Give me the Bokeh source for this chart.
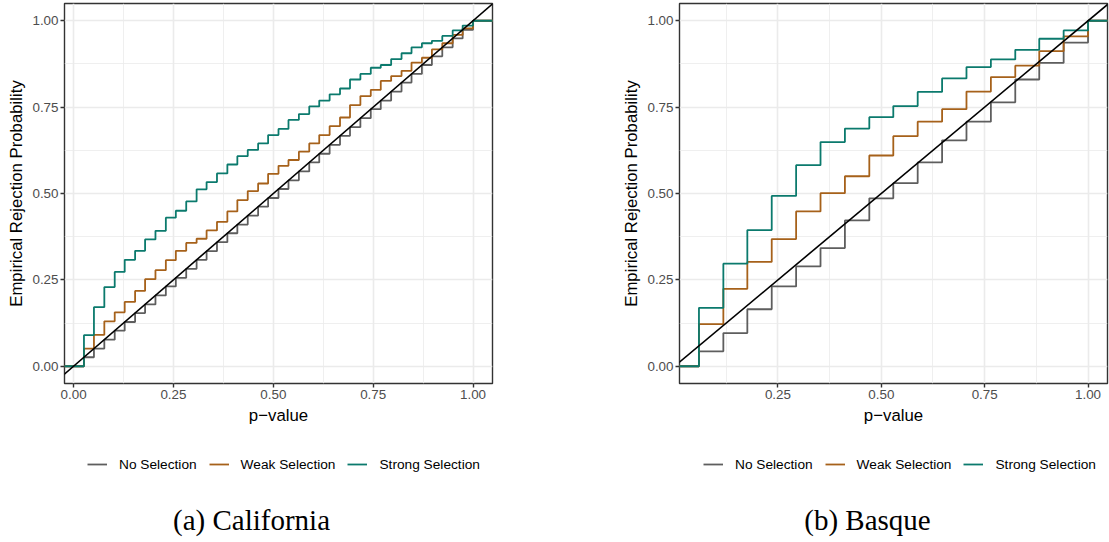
from bokeh.plotting import figure
from bokeh.layouts import row, column
from bokeh.models import (Range1d, FixedTicker, NumeralTickFormatter, Legend,
                          LegendItem, Label, Slope)
from bokeh.embed import file_html
from bokeh.resources import INLINE

# ---------------- data ----------------
# (a) California: placebo p-value grid and empirical rejection probabilities
ca_pvalue = [0.026, 0.051, 0.077, 0.103, 0.128, 0.154, 0.179, 0.205, 0.231, 0.256,
             0.282, 0.308, 0.333, 0.359, 0.385, 0.410, 0.436, 0.462, 0.487, 0.513,
             0.538, 0.564, 0.590, 0.615, 0.641, 0.667, 0.692, 0.718, 0.744, 0.769,
             0.795, 0.821, 0.846, 0.872, 0.897, 0.923, 0.949, 0.974, 1.000]
ca_no_selection = [0.026, 0.051, 0.077, 0.103, 0.128, 0.154, 0.179, 0.205, 0.231, 0.256,
                   0.282, 0.308, 0.333, 0.359, 0.385, 0.410, 0.436, 0.462, 0.487, 0.513,
                   0.538, 0.564, 0.590, 0.615, 0.641, 0.667, 0.692, 0.718, 0.744, 0.769,
                   0.795, 0.821, 0.846, 0.872, 0.897, 0.923, 0.949, 0.974, 1.000]
ca_weak_selection = [0.051, 0.091, 0.130, 0.156, 0.186, 0.218, 0.252, 0.278, 0.307, 0.334,
                     0.357, 0.369, 0.393, 0.418, 0.448, 0.481, 0.507, 0.529, 0.557, 0.580,
                     0.597, 0.621, 0.645, 0.669, 0.695, 0.720, 0.756, 0.782, 0.800, 0.826,
                     0.840, 0.855, 0.879, 0.893, 0.917, 0.935, 0.959, 0.978, 1.000]
ca_strong_selection = [0.090, 0.171, 0.229, 0.273, 0.308, 0.334, 0.367, 0.392, 0.430, 0.450,
                       0.477, 0.512, 0.533, 0.558, 0.584, 0.608, 0.626, 0.645, 0.669, 0.687,
                       0.713, 0.730, 0.752, 0.769, 0.787, 0.804, 0.830, 0.846, 0.864, 0.872,
                       0.889, 0.906, 0.923, 0.935, 0.942, 0.956, 0.972, 0.986, 1.000]

# (b) Basque
bq_pvalue = [0.059, 0.118, 0.176, 0.235, 0.294, 0.353, 0.412, 0.471, 0.529,
             0.588, 0.647, 0.706, 0.765, 0.824, 0.882, 0.941, 1.000]
bq_no_selection = [0.043, 0.096, 0.165, 0.231, 0.289, 0.342, 0.422, 0.486, 0.530,
                   0.590, 0.654, 0.708, 0.764, 0.830, 0.878, 0.937, 1.000]
bq_weak_selection = [0.122, 0.224, 0.302, 0.368, 0.448, 0.501, 0.550, 0.610, 0.666,
                     0.708, 0.744, 0.795, 0.837, 0.870, 0.912, 0.955, 1.000]
bq_strong_selection = [0.169, 0.297, 0.394, 0.493, 0.582, 0.649, 0.688, 0.721, 0.753,
                       0.794, 0.833, 0.866, 0.888, 0.916, 0.948, 0.972, 1.000]

series_names = ["No Selection", "Weak Selection", "Strong Selection"]
series_colors = ["#5E5E5E", "#A6611A", "#0B7A6D"]
major_ticks = [0.0, 0.25, 0.5, 0.75, 1.0]
minor_ticks = [0.125, 0.375, 0.625, 0.875]
captions = ["(a) California", "(b) Basque"]
x_title = "p\u2212value"
y_title = "Empirical Rejection Probability"

# ECDF padding (like stat_ecdf's -Inf / Inf ends)
ECDF_LO, ECDF_HI = -1.0, 2.0

SANS = "Liberation Sans"
SERIF = "Liberation Serif"
TOP_H = 433      # plot + x axis
BOTTOM_H = 107   # legend + caption


def main_panel(pvals, series, width, border_left, border_right):
    lo, hi = min(pvals), max(pvals)
    pad = 0.05 * (hi - lo)
    p = figure(width=width, height=TOP_H, output_backend="svg", toolbar_location=None,
               x_range=Range1d(lo - pad, hi + pad), y_range=Range1d(-0.05, 1.05),
               min_border_left=border_left, min_border_right=border_right,
               min_border_top=3, min_border_bottom=50,
               background_fill_color="white", border_fill_color="white")

    for ax in (p.xaxis, p.yaxis):
        ax.ticker = FixedTicker(ticks=major_ticks, minor_ticks=minor_ticks)
        ax.formatter = NumeralTickFormatter(format="0.00")
        ax.axis_line_color = None
        ax.major_tick_line_color = "#333333"
        ax.major_tick_line_width = 1.4
        ax.major_tick_out = 4
        ax.major_tick_in = 0
        ax.minor_tick_line_color = None
        ax.major_label_text_font = SANS
        ax.major_label_text_font_size = "13.4px"
        ax.major_label_text_color = "#4D4D4D"
        ax.major_label_standoff = 2
        ax.axis_label_text_font = SANS
        ax.axis_label_text_font_size = "16.8px"
        ax.axis_label_text_font_style = "normal"
        ax.axis_label_text_color = "black"
    p.xaxis.axis_label = x_title
    p.yaxis.axis_label = y_title
    p.xaxis.axis_label_standoff = 4
    p.yaxis.axis_label_standoff = 3

    for g in (p.xgrid, p.ygrid):
        g.grid_line_color = "#EBEBEB"
        g.grid_line_width = 1.6
        g.minor_grid_line_color = "#EBEBEB"
        g.minor_grid_line_width = 0.8

    p.outline_line_color = "#333333"
    p.outline_line_width = 1.4

    for vals, color in zip(series, series_colors):
        xs = [ECDF_LO] + list(pvals) + [ECDF_HI]
        ys = [0.0] + list(vals) + [vals[-1]]
        p.step(xs, ys, mode="after", line_color=color, line_width=1.8)

    p.add_layout(Slope(gradient=1, y_intercept=0, line_color="black", line_width=1.6))
    return p


def bottom_panel(width, pvals, series, legend_x, caption, caption_x):
    # this strip's frame is aligned with the plot frame above it
    q = figure(width=width, height=BOTTOM_H, output_backend="svg", toolbar_location=None,
               x_range=Range1d(0, 1), y_range=Range1d(0, 1),
               x_axis_type=None, y_axis_type=None,
               min_border=0, min_border_left=0, min_border_right=0,
               min_border_top=0, min_border_bottom=0,
               background_fill_color="white", border_fill_color="white",
               outline_line_color=None)
    q.xgrid.visible = False
    q.ygrid.visible = False
    # legend keys: one-point lines (draw nothing themselves, only the key glyphs)
    proxies = [q.line(x=[pvals[0]], y=[vals[0]], line_color=c, line_width=1.8)
               for vals, c in zip(series, series_colors)]
    legend = Legend(
        items=[LegendItem(label=n, renderers=[r]) for n, r in zip(series_names, proxies)],
        location=(legend_x, 68), orientation="horizontal",
        glyph_width=20, glyph_height=16, label_height=16, label_standoff=12, spacing=12,
        padding=0, margin=0, border_line_color=None, background_fill_alpha=0,
        label_text_font=SANS, label_text_font_size="13.7px", label_text_color="black")
    q.add_layout(legend)
    q.add_layout(Label(x=caption_x, y=21, x_units="screen", y_units="screen",
                       text=caption, text_font=SERIF, text_font_size="29px",
                       text_align="center", text_baseline="middle", text_color="black"))
    return q


ca_series = [ca_no_selection, ca_weak_selection, ca_strong_selection]
bq_series = [bq_no_selection, bq_weak_selection, bq_strong_selection]

pa = main_panel(ca_pvalue, ca_series, width=560, border_left=64, border_right=68)
la = bottom_panel(560, ca_pvalue, ca_series, legend_x=23, caption=captions[0], caption_x=187)
pb = main_panel(bq_pvalue, bq_series, width=549, border_left=119, border_right=2)
lb = bottom_panel(549, bq_pvalue, bq_series, legend_x=24, caption=captions[1], caption_x=188)

layout = row(column(pa, la, spacing=0), column(pb, lb, spacing=0), spacing=0)
open("out.html", "w").write(file_html(layout, INLINE))
